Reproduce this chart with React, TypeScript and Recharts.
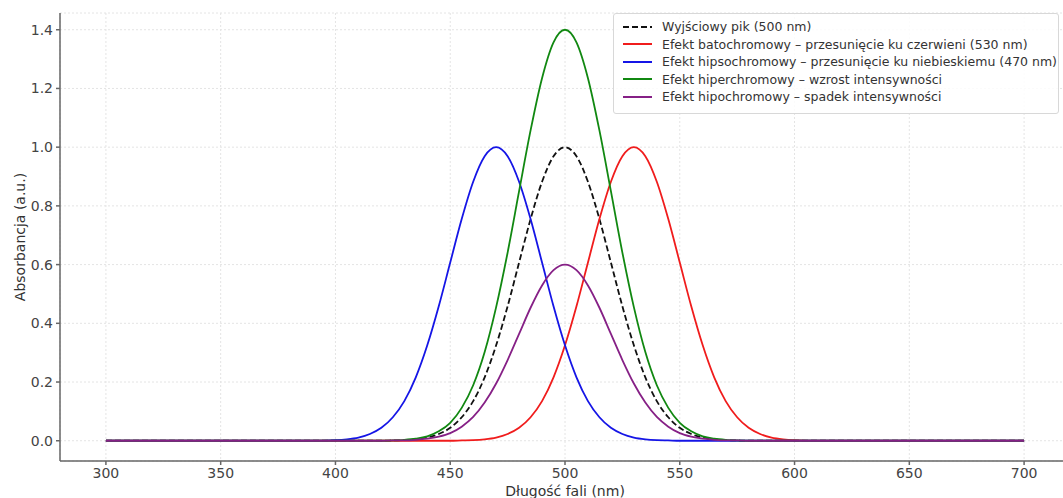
import { LineChart, Line, XAxis, YAxis, CartesianGrid, Legend } from 'recharts';

// wavelength grid (nm)
const wavelengths = [
  300, 350, 380, 390, 400, 405, 410, 415, 420, 425, 430, 435, 440, 445, 450, 455, 460, 465, 470, 475,
  480, 485, 490, 495, 500, 505, 510, 515, 520, 525, 530, 535, 540, 545, 550, 555, 560, 565, 570, 575,
  580, 585, 590, 595, 600, 610, 620, 650, 700,
];

const basePeak = [
  0, 0, 0, 0, 0, 0, 0, 0, 0, 0.001, 0.002, 0.005, 0.011, 0.023, 0.044, 0.08, 0.135, 0.216, 0.325, 0.458,
  0.607, 0.755, 0.882, 0.969, 1.0, 0.969, 0.882, 0.755, 0.607, 0.458, 0.325, 0.216, 0.135, 0.08, 0.044,
  0.023, 0.011, 0.005, 0.002, 0.001, 0, 0, 0, 0, 0, 0, 0, 0, 0,
];

const redShift = [
  0, 0, 0, 0, 0, 0, 0, 0, 0, 0, 0, 0, 0, 0, 0, 0.001, 0.002, 0.005, 0.011, 0.023,
  0.044, 0.08, 0.135, 0.216, 0.325, 0.458, 0.607, 0.755, 0.882, 0.969, 1.0, 0.969, 0.882, 0.755, 0.607,
  0.458, 0.325, 0.216, 0.135, 0.08, 0.044, 0.023, 0.011, 0.005, 0.002, 0, 0, 0, 0,
];

const blueShift = [
  0, 0, 0, 0, 0.002, 0.005, 0.011, 0.023, 0.044, 0.08, 0.135, 0.216, 0.325, 0.458, 0.607, 0.755, 0.882,
  0.969, 1.0, 0.969, 0.882, 0.755, 0.607, 0.458, 0.325, 0.216, 0.135, 0.08, 0.044, 0.023, 0.011, 0.005,
  0.002, 0.001, 0, 0, 0, 0, 0, 0, 0, 0, 0, 0, 0, 0, 0, 0, 0,
];

const hyper = [
  0, 0, 0, 0, 0, 0, 0, 0, 0, 0.001, 0.003, 0.007, 0.015, 0.032, 0.061, 0.112, 0.189, 0.302, 0.455, 0.641,
  0.85, 1.057, 1.235, 1.357, 1.4, 1.357, 1.235, 1.057, 0.85, 0.641, 0.455, 0.302, 0.189, 0.112, 0.061,
  0.032, 0.015, 0.007, 0.003, 0.001, 0, 0, 0, 0, 0, 0, 0, 0, 0,
];

const hypo = [
  0, 0, 0, 0, 0, 0, 0, 0, 0, 0.001, 0.001, 0.003, 0.007, 0.014, 0.026, 0.048, 0.081, 0.13, 0.195, 0.275,
  0.364, 0.453, 0.529, 0.581, 0.6, 0.581, 0.529, 0.453, 0.364, 0.275, 0.195, 0.13, 0.081, 0.048, 0.026,
  0.014, 0.007, 0.003, 0.001, 0.001, 0, 0, 0, 0, 0, 0, 0, 0, 0,
];

const xTicks = [300, 350, 400, 450, 500, 550, 600, 650, 700];
const yTicks = [0, 0.2, 0.4, 0.6, 0.8, 1.0, 1.2, 1.4];

const series = [
  { key: 'base', name: 'Wyjściowy pik (500 nm)', color: '#111111', dash: '6 3' },
  { key: 'red', name: 'Efekt batochromowy – przesunięcie ku czerwieni (530 nm)', color: '#f01c1c', dash: undefined },
  { key: 'blue', name: 'Efekt hipsochromowy – przesunięcie ku niebieskiemu (470 nm)', color: '#1515e6', dash: undefined },
  { key: 'green', name: 'Efekt hiperchromowy – wzrost intensywności', color: '#118811', dash: undefined },
  { key: 'purple', name: 'Efekt hipochromowy – spadek intensywności', color: '#862086', dash: undefined },
];

const data = wavelengths.map((w, i) => ({
  w,
  base: basePeak[i],
  red: redShift[i],
  blue: blueShift[i],
  green: hyper[i],
  purple: hypo[i],
}));

const FONT = '"DejaVu Sans", sans-serif';

const LegendBox = () => (
  <div
    style={{
      position: 'absolute',
      left: 613,
      top: 13,
      width: 446,
      height: 101,
      boxSizing: 'border-box',
      background: 'rgba(255,255,255,0.85)',
      border: '1px solid #d8d8d8',
      borderRadius: 3,
      paddingTop: 4,
      fontFamily: FONT,
      fontSize: 12.5,
      color: '#333',
    }}
  >
    {series.map((s) => (
      <div key={s.key} style={{ display: 'flex', alignItems: 'center', height: 17.5 }}>
        <svg width={48} height={10} style={{ flex: 'none' }}>
          <line x1={9} x2={38} y1={5} y2={5} stroke={s.color} strokeWidth={2} strokeDasharray={s.dash} />
        </svg>
        <span style={{ whiteSpace: 'nowrap' }}>{s.name}</span>
      </div>
    ))}
  </div>
);

const App = () => {
  return (
    <div style={{ position: 'absolute', left: 0, top: 0, width: 1063, height: 498, overflow: 'hidden', background: '#fff' }}>
      <LineChart width={1080} height={498} data={data} margin={{ top: 13, right: 10, bottom: 0, left: 0 }}>
        <CartesianGrid stroke="#e4e4e4" strokeDasharray="2 2" />
        <XAxis
          dataKey="w"
          type="number"
          domain={[280, 720]}
          ticks={xTicks}
          allowDataOverflow
          height={37}
          stroke="#666"
          strokeWidth={1.5}
          tickSize={4}
          tickMargin={3}
          tick={{ fill: '#444', fontSize: 14, fontFamily: FONT }}
          label={{
            content: ({ viewBox }: any) => (
              <text x={viewBox.x + viewBox.width / 2} y={496} textAnchor="middle" fill="#333" fontSize={14} fontFamily={FONT}>
                Długość fali (nm)
              </text>
            ),
          }}
        />
        <YAxis
          type="number"
          domain={[-0.069, 1.457]}
          ticks={yTicks}
          allowDataOverflow
          width={60}
          stroke="#666"
          strokeWidth={1.5}
          tickSize={4}
          tickMargin={3}
          tickFormatter={(v: number) => v.toFixed(1)}
          tick={{ fill: '#444', fontSize: 14, fontFamily: FONT }}
          label={{
            content: ({ viewBox }: any) => {
              const cy = viewBox.y + viewBox.height / 2;
              return (
                <text x={25} y={cy} transform={`rotate(-90, 25, ${cy})`} textAnchor="middle" fill="#333" fontSize={14} fontFamily={FONT}>
                  Absorbancja (a.u.)
                </text>
              );
            },
          }}
        />
        <Legend content={() => null} />
        {series.map((s) => (
          <Line
            key={s.key}
            type="monotone"
            dataKey={s.key}
            name={s.name}
            stroke={s.color}
            strokeWidth={1.8}
            strokeDasharray={s.dash}
            dot={false}
            isAnimationActive={false}
          />
        ))}
      </LineChart>
      <LegendBox />
    </div>
  );
};

export default App;
